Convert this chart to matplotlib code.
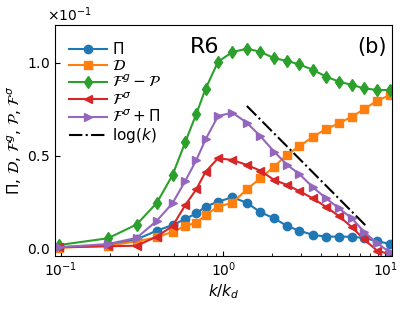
import matplotlib
matplotlib.use("Agg")
import matplotlib.pyplot as plt

# k / k_d sample points
k = [0.098, 0.195, 0.293, 0.39, 0.488, 0.585, 0.683, 0.78, 0.93, 1.14, 1.40,
     1.69, 2.06, 2.48, 2.94, 3.58, 4.30, 5.17, 6.22, 7.38, 8.87, 10.66]

# values in units of 1e-1
pi_flux = [0.008, 0.018, 0.05, 0.097, 0.127, 0.16, 0.19, 0.226, 0.253, 0.276, 0.247,
           0.197, 0.163, 0.122, 0.097, 0.074, 0.065, 0.065, 0.064, 0.058, 0.04, 0.026]
diss = [0.005, 0.015, 0.04, 0.061, 0.091, 0.122, 0.14, 0.181, 0.226, 0.247, 0.319,
        0.378, 0.441, 0.506, 0.55, 0.602, 0.643, 0.674, 0.71, 0.75, 0.795, 0.826]
fg_minus_p = [0.02, 0.056, 0.13, 0.246, 0.396, 0.574, 0.724, 0.86, 1.005, 1.057, 1.075,
              1.059, 1.024, 1.009, 0.991, 0.961, 0.925, 0.898, 0.880, 0.862, 0.853, 0.853]
f_sigma = [0.008, 0.013, 0.016, 0.065, 0.122, 0.235, 0.319, 0.414, 0.486, 0.477, 0.45,
           0.42, 0.37, 0.342, 0.31, 0.27, 0.225, 0.175, 0.115, 0.05, -0.01, -0.03]
f_sigma_pi = [0.008, 0.025, 0.058, 0.15, 0.245, 0.365, 0.476, 0.588, 0.713, 0.731, 0.677,
              0.606, 0.522, 0.45, 0.402, 0.33, 0.271, 0.217, 0.163, 0.09, 0.03, -0.02]

k_ref = [1.4, 7.7]
ref = [0.767, 0.117]

scale = 0.1

fig = plt.figure(figsize=(4.07, 3.11), dpi=100)
ax = fig.add_axes([0.135, 0.177, 0.828, 0.743])

series = [
    (pi_flux, "o", "C0", r"$\Pi$"),
    (diss, "s", "C1", r"$\mathcal{D}$"),
    (fg_minus_p, "d", "C2", r"$\mathcal{F}^g - \mathcal{P}$"),
    (f_sigma, "<", "C3", r"$\mathcal{F}^\sigma$"),
    (f_sigma_pi, ">", "C4", r"$\mathcal{F}^\sigma + \Pi$"),
]
for vals, mk, col, lab in series:
    ax.plot(k, [v * scale for v in vals], marker=mk, color=col, label=lab,
            markersize=6, linewidth=1.5)
ax.plot(k_ref, [v * scale for v in ref], "k-.", linewidth=1.5, label=r"$\log(k)$")

ax.set_xscale("log")
ax.set_xlim(0.092, 10.96)
ax.set_ylim(-0.0039, 0.1203)
ax.set_yticks([0.0, 0.05, 0.10])
ax.ticklabel_format(axis="y", style="sci", scilimits=(0, 0), useMathText=True)
ax.tick_params(which="both", direction="in", labelsize=10)
off = ax.yaxis.get_offset_text()
off.set_fontsize(10)
off.set_x(-0.025)

ax.set_xlabel(r"$k/k_d$", fontsize=11, labelpad=2)
ax.set_ylabel(r"$\Pi$, $\mathcal{D}$, $\mathcal{F}^g$, $\mathcal{P}$, $\mathcal{F}^\sigma$",
              fontsize=11, labelpad=2)

ax.text(0.445, 0.905, "R6", transform=ax.transAxes, fontsize=16, ha="center", va="center")
ax.text(0.94, 0.905, "(b)", transform=ax.transAxes, fontsize=15, ha="center", va="center")

ax.legend(loc="upper left", bbox_to_anchor=(0.01, 0.975), frameon=False, fontsize=11,
          handlelength=2.5, handletextpad=0.3, labelspacing=0.05, borderaxespad=0.3)

fig.savefig("out.png", dpi=100)
